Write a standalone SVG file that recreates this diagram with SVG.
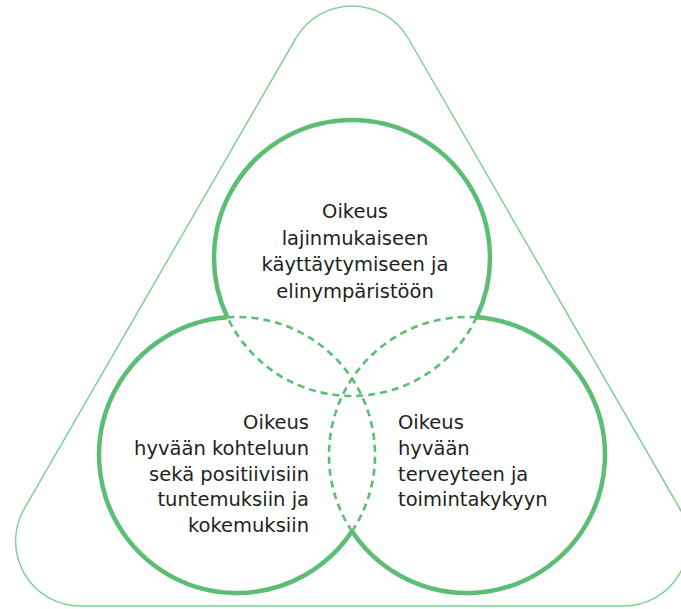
<svg xmlns="http://www.w3.org/2000/svg" width="681" height="609" viewBox="0 0 681 609">
<style>
.frame{fill:none;stroke:#80d097;stroke-width:1.5}
.solid{fill:none;stroke:#5cbd74;stroke-width:4.5}
.dash{fill:none;stroke:#5cbd74;stroke-width:2.6;stroke-dasharray:7 5}
text{font-family:"DejaVu Sans","Liberation Sans",sans-serif;font-size:19.5px;fill:#231f20}
.c{text-anchor:middle}
.r{text-anchor:end}
.l{text-anchor:start}
</style>
<rect width="681" height="609" fill="#ffffff"/>
<g id="frame">
<path class="frame" d="M295.7,38.5 A65,65 0 0 1 408.3,38.5 L679.7,508.5 A65,65 0 0 1 623.4,606 L80.6,606 A65,65 0 0 1 24.3,508.5 Z"/>
</g>
<g id="connectors">
<path class="dash" d="M476.6,317.3 A138,138 0 0 1 227.4,317.3"/>
<path class="dash" d="M352,531.3 A138,138 0 0 0 227.4,317.3"/>
<path class="dash" d="M352,531.3 A138,138 0 0 1 476.6,317.3"/>
</g>
<g id="node-top">
<path class="solid" d="M227.4,317.3 A138,138 0 1 1 476.6,317.3"/>
<text class="c" x="355" y="218">Oikeus</text>
<text class="c" x="355" y="244.5">lajinmukaiseen</text>
<text class="c" x="355" y="271">käyttäytymiseen ja</text>
<text class="c" x="355" y="297.5">elinympäristöön</text>
</g>
<g id="node-left">
<path class="solid" d="M227.4,317.3 A138,138 0 1 0 352,531.3"/>
<text class="r" x="309" y="429">Oikeus</text>
<text class="r" x="309" y="455">hyvään kohteluun</text>
<text class="r" x="309" y="481">sekä positiivisiin</text>
<text class="r" x="309" y="506">tuntemuksiin ja</text>
<text class="r" x="309" y="532">kokemuksiin</text>
</g>
<g id="node-right">
<path class="solid" d="M476.6,317.3 A138,138 0 1 1 352,531.3"/>
<text class="l" x="398" y="429">Oikeus</text>
<text class="l" x="398" y="455">hyvään</text>
<text class="l" x="398" y="481">terveyteen ja</text>
<text class="l" x="398" y="506">toimintakykyyn</text>
</g>
</svg>
